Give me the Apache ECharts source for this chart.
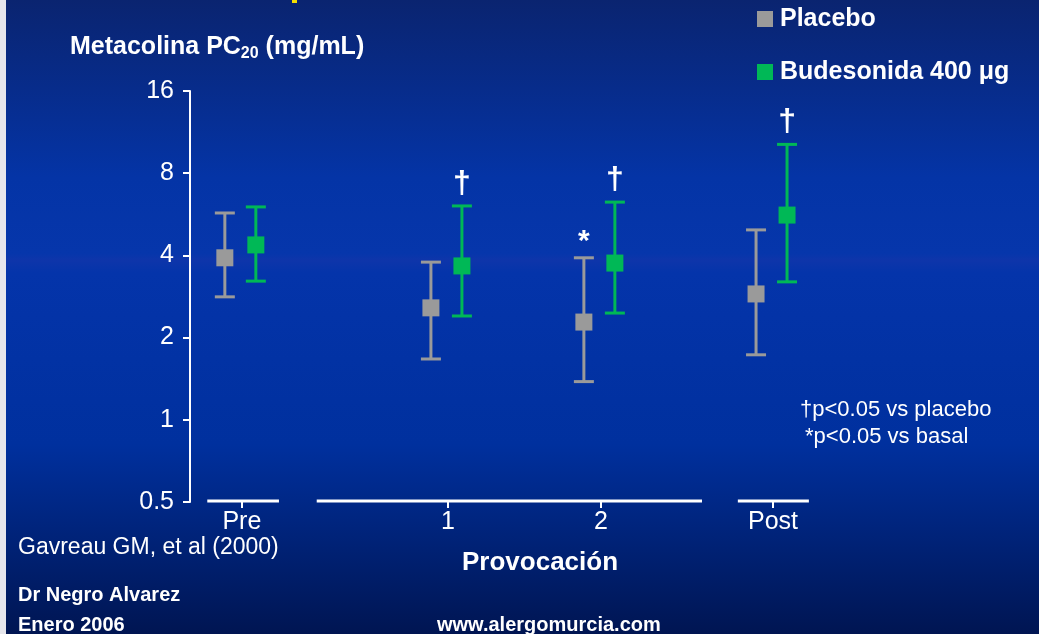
<!DOCTYPE html>
<html>
<head>
<meta charset="utf-8">
<script src="https://cdn.jsdelivr.net/npm/echarts@6/dist/echarts.min.js"></script>
<style>
  html, body { margin: 0; padding: 0; }
  #chart { width: 1039px; height: 634px; }
</style>
</head>
<body>
<div id="chart"></div>
<script>
// time points on the x axis (value positions, axis runs 0..10)
const xLabels = ['Pre', '1', '2', 'Post'];
const xPos = [0.81, 4.03, 6.42, 9.11];
// broken x axis line pieces
const xSegments = [[0.27, 1.39], [1.98, 8.0], [8.56, 9.67]];

// PC20 (mg/mL): mean, lower, upper
const placeboMean = [3.92, 2.57, 2.28, 2.89];
const placeboLow = [2.82, 1.67, 1.38, 1.73];
const placeboHigh = [5.72, 3.78, 3.92, 4.96];
const budesMean = [4.37, 3.66, 3.75, 5.62];
const budesLow = [3.22, 2.40, 2.46, 3.20];
const budesHigh = [6.02, 6.07, 6.27, 10.2];

const placeboMarks = ['', '', '*', ''];
const budesMarks = ['', '\u2020', '\u2020', '\u2020'];

const yTicks = [0.5, 1, 2, 4, 8, 16];

const FONT = '"Liberation Sans", Arial, sans-serif';
const GRAY = '#9a9a9a';
const GREEN = '#00b856';

const chart = echarts.init(document.getElementById('chart'));

const errorBar = (offset, color, marks) => (params, api) => {
  const x = api.value(0);
  const c = api.coord([x, api.value(1)]);
  const lo = api.coord([x, api.value(2)]);
  const hi = api.coord([x, api.value(3)]);
  const cx = c[0] + offset;
  const cap = 10;
  const box = 17;
  const ls = { stroke: color, lineWidth: 3 };
  const children = [
    { type: 'line', shape: { x1: cx, y1: hi[1], x2: cx, y2: lo[1] }, style: ls },
    { type: 'line', shape: { x1: cx - cap, y1: hi[1], x2: cx + cap, y2: hi[1] }, style: ls },
    { type: 'line', shape: { x1: cx - cap, y1: lo[1], x2: cx + cap, y2: lo[1] }, style: ls },
    { type: 'rect', shape: { x: cx - box / 2, y: c[1] - box / 2, width: box, height: box }, style: { fill: color } }
  ];
  const mark = marks[params.dataIndex];
  if (mark) {
    const star = mark === '*';
    children.push({
      type: 'text',
      x: cx,
      y: hi[1] - (star ? 1 : 6),
      style: {
        text: mark,
        fill: '#fff',
        font: (star ? 'bold 30px ' : 'bold 32px ') + FONT,
        align: 'center',
        verticalAlign: 'bottom'
      }
    });
  }
  return { type: 'group', children };
};

const option = {
  animation: false,
  title: {
    left: 70,
    top: 32,
    padding: 0,
    text: 'Metacolina PC{sub|20} (mg/mL)',
    textStyle: {
      color: '#fff',
      fontFamily: FONT,
      fontWeight: 'bold',
      fontSize: 25,
      rich: {
        sub: { color: '#fff', fontFamily: FONT, fontWeight: 'bold', fontSize: 16, padding: [14, 0, 0, 0] }
      }
    }
  },
  legend: {
    orient: 'vertical',
    left: 757,
    top: 5,
    padding: 0,
    itemGap: 25,
    itemWidth: 16,
    itemHeight: 16,
    icon: 'rect',
    textStyle: { color: '#fff', fontFamily: FONT, fontWeight: 'bold', fontSize: 25, lineHeight: 28, padding: [0, 0, 0, 2] },
    data: ['Placebo', 'Budesonida 400 \u03bcg']
  },
  grid: { left: 190, right: 209, top: 91, bottom: 132 },
  xAxis: {
    type: 'value',
    min: 0,
    max: 10,
    axisLine: { show: false },
    splitLine: { show: false },
    axisTick: {
      show: true,
      customValues: xPos,
      length: 6,
      lineStyle: { color: '#fff', width: 2 }
    },
    axisLabel: {
      customValues: xPos,
      formatter: (v) => xLabels[xPos.indexOf(v)],
      color: '#fff',
      fontFamily: FONT,
      fontSize: 25,
      margin: 8
    }
  },
  yAxis: {
    type: 'log',
    logBase: 2,
    min: 0.5,
    max: 16,
    splitLine: { show: false },
    axisLine: { show: true, lineStyle: { color: '#fff', width: 2 } },
    axisTick: { show: true, length: 7, lineStyle: { color: '#fff', width: 2 } },
    axisLabel: {
      color: '#fff',
      fontFamily: FONT,
      fontSize: 25,
      margin: 16,
      formatter: (v) => String(v)
    }
  },
  series: [
    {
      type: 'custom',
      name: 'axis',
      silent: true,
      data: xSegments.map((s) => [s[0], s[1], yTicks[0]]),
      renderItem: (params, api) => {
        const a = api.coord([api.value(0), api.value(2)]);
        const b = api.coord([api.value(1), api.value(2)]);
        return {
          type: 'line',
          shape: { x1: a[0], y1: a[1] - 1, x2: b[0], y2: b[1] - 1 },
          style: { stroke: '#fff', lineWidth: 3 }
        };
      }
    },
    {
      type: 'custom',
      name: 'Placebo',
      itemStyle: { color: GRAY },
      data: xPos.map((x, i) => [x, placeboMean[i], placeboLow[i], placeboHigh[i]]),
      encode: { x: 0, y: [1, 2, 3] },
      renderItem: errorBar(-17, GRAY, placeboMarks),
      z: 3
    },
    {
      type: 'custom',
      name: 'Budesonida 400 \u03bcg',
      itemStyle: { color: GREEN },
      data: xPos.map((x, i) => [x, budesMean[i], budesLow[i], budesHigh[i]]),
      encode: { x: 0, y: [1, 2, 3] },
      renderItem: errorBar(14, GREEN, budesMarks),
      z: 3
    }
  ],
  graphic: [
    {
      type: 'rect',
      z: -10,
      silent: true,
      shape: { x: 0, y: 0, width: 1039, height: 634 },
      style: {
        fill: new echarts.graphic.LinearGradient(0, 0, 0, 1, [
          { offset: 0, color: '#0a2470' },
          { offset: 0.28, color: '#0434a6' },
          { offset: 0.40, color: '#0636ab' },
          { offset: 0.41, color: '#0e35aa' },
          { offset: 0.43, color: '#0434aa' },
          { offset: 0.7, color: '#00309e' },
          { offset: 1, color: '#001552' }
        ])
      }
    },
    { type: 'rect', z: -9, silent: true, shape: { x: 0, y: 0, width: 6, height: 634 }, style: { fill: '#e6e6ec' } },
    { type: 'rect', z: -9, silent: true, shape: { x: 292, y: 0, width: 5, height: 3 }, style: { fill: '#f5e000' } },
    {
      type: 'text', left: 800, top: 399,
      style: { text: '\u2020p<0.05 vs placebo', fill: '#fff', font: '22px ' + FONT }
    },
    {
      type: 'text', left: 805, top: 426,
      style: { text: '*p<0.05 vs basal', fill: '#fff', font: '22px ' + FONT }
    },
    {
      type: 'text', left: 18, top: 536,
      style: { text: 'Gavreau GM, et al (2000)', fill: '#fff', font: '23px ' + FONT }
    },
    {
      type: 'text', left: 462, top: 550,
      style: { text: 'Provocaci\u00f3n', fill: '#fff', font: 'bold 26px ' + FONT }
    },
    {
      type: 'text', left: 18, top: 585,
      style: { text: 'Dr Negro Alvarez', fill: '#fff', font: 'bold 20px ' + FONT }
    },
    {
      type: 'text', left: 18, top: 615,
      style: { text: 'Enero 2006', fill: '#fff', font: 'bold 20px ' + FONT }
    },
    {
      type: 'text', left: 437, top: 615,
      style: { text: 'www.alergomurcia.com', fill: '#fff', font: 'bold 20px ' + FONT }
    }
  ]
};

chart.setOption(option);
window.addEventListener('resize', () => chart.resize());
</script>
</body>
</html>
